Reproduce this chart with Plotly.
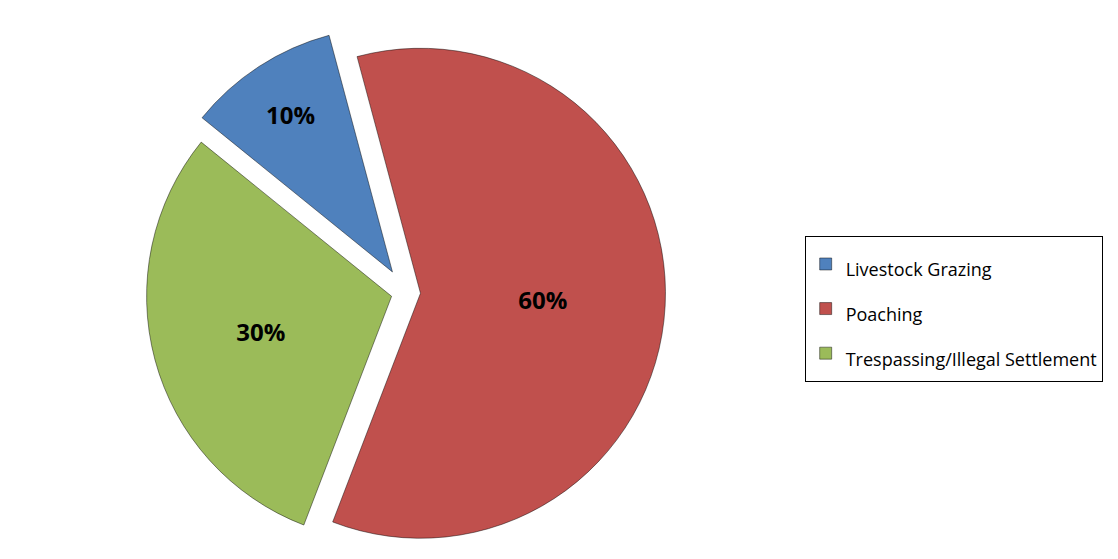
import plotly.graph_objects as go

labels = ["Livestock Grazing", "Poaching", "Trespassing/Illegal Settlement"]
values = [10, 60, 30]
colors = ["#4F81BD", "#C0504D", "#9BBB59"]
pulls = [0.1, 0.06, 0.06]

legend_names = [f"<span style='font-size:18px'>{l}</span>" for l in labels]

fig = go.Figure(go.Pie(
    labels=legend_names,
    values=values,
    sort=False,
    direction="clockwise",
    rotation=-51,
    pull=pulls,
    marker=dict(colors=colors, line=dict(color="rgba(0,0,0,0.45)", width=1)),
    texttemplate="<b>%{percent:.0%}</b>",
    textposition="inside",
    insidetextorientation="horizontal",
    textfont=dict(family="Open Sans, Noto Sans, sans-serif", size=24, color="black"),
    domain=dict(x=[0.0, 0.70], y=[0.0, 1.0]),
    customdata=labels,
    hovertemplate="%{customdata}: %{percent}<extra></extra>",
))

fig.update_layout(
    width=1118,
    height=559,
    margin=dict(l=10, r=0, t=15, b=5),
    paper_bgcolor="white",
    plot_bgcolor="white",
    showlegend=True,
    legend=dict(
        x=0.71, xanchor="left",
        y=0.47, yanchor="middle",
        bordercolor="black", borderwidth=1,
        bgcolor="white",
        font=dict(family="Open Sans, Noto Sans, sans-serif", size=32, color="black"),
    ),
)

fig.write_html("out.html")
